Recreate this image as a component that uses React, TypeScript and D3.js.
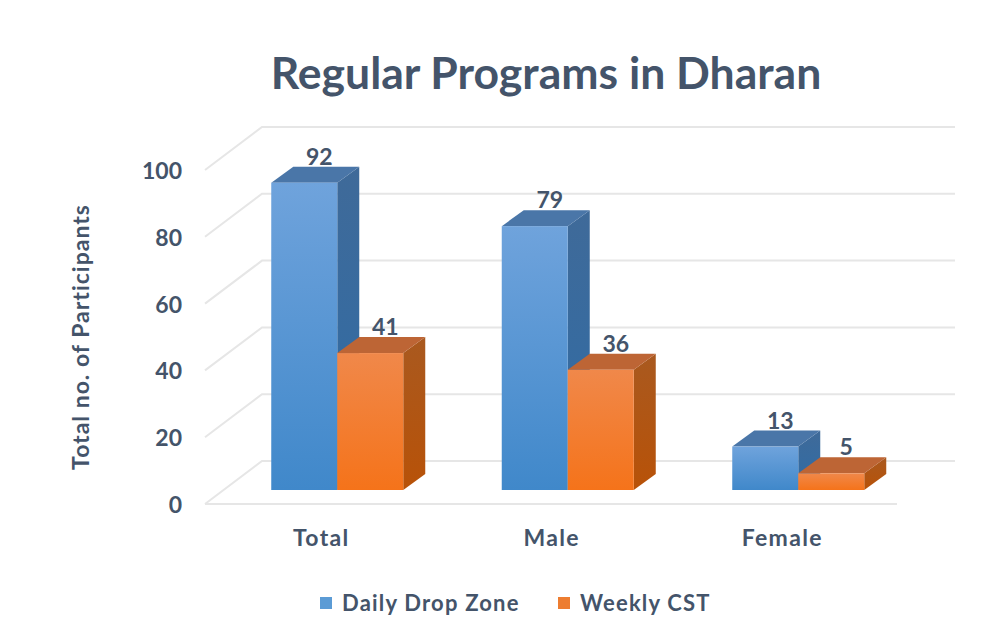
import React, { useEffect, useRef } from 'react';
import * as d3 from 'd3';

const categories = ['Total', 'Male', 'Female'];
const seriesNames = ['Daily Drop Zone', 'Weekly CST'];
const dailyDropZone = [92, 79, 13];
const weeklyCST = [41, 36, 5];
const yTicks = [0, 20, 40, 60, 80, 100];

const TEXT = '#44546a';
const GRID = '#e6e6e6';

const App = () => {
    const svgRef = useRef<SVGSVGElement>(null);

    useEffect(() => {
        const width = 998;
        const height = 635;
        const svg = d3.select(svgRef.current);
        svg.selectAll('*').remove();
        svg.attr('viewBox', `0 0 ${width} ${height}`);

        svg.append('rect').attr('width', width).attr('height', height).attr('fill', '#fff');

        const defs = svg.append('defs');
        const gradient = (id: string, top: string, bottom: string) => {
            const g = defs.append('linearGradient').attr('id', id)
                .attr('x1', 0).attr('y1', 0).attr('x2', 0).attr('y2', 1);
            g.append('stop').attr('offset', '0%').attr('stop-color', top);
            g.append('stop').attr('offset', '100%').attr('stop-color', bottom);
        };
        gradient('blueFront', '#6fa3dc', '#4088ca');
        gradient('blueSide', '#3f6a99', '#2f6ca6');
        gradient('orangeFront', '#f0884a', '#f5731a');
        gradient('orangeSide', '#a9591f', '#b85208');

        const font = "Lato, 'Open Sans', sans-serif";

        // bars stand on a plane a bit behind the front edge of the floor
        const y = d3.scaleLinear().domain([0, 100]).range([490, 156]);
        const yFront = d3.scaleLinear().domain([0, 100]).range([504, 170]);
        const yBack = d3.scaleLinear().domain([0, 100]).range([461, 127]);

        const x0 = d3.scaleBand().domain(categories).range([222, 913.5]);
        const x1 = d3.scaleBand().domain(seriesNames).range([0, 132]);
        const barW = x1.bandwidth();
        const start = (c: string) => x0(c)! + (x0.bandwidth() - 132) / 2;

        const wallLeft = 205;
        const wallBack = 262;
        const gridRight = 955;
        const floorRight = 897;
        const depthX = 22;
        const depthY = 16;

        // gridlines on the back and side walls
        yTicks.forEach(t => {
            svg.append('path')
                .attr('d', `M${wallLeft},${yFront(t)}L${wallBack},${yBack(t)}L${gridRight},${yBack(t)}`)
                .attr('fill', 'none').attr('stroke', GRID).attr('stroke-width', 2);
        });
        svg.append('line')
            .attr('x1', wallLeft).attr('x2', floorRight)
            .attr('y1', yFront(0)).attr('y2', yFront(0))
            .attr('stroke', GRID).attr('stroke-width', 2);

        // y ticks
        svg.append('g').selectAll('text').data(yTicks).join('text')
            .attr('x', 182).attr('y', d => yFront(d) + 9)
            .attr('text-anchor', 'end')
            .attr('font-family', font).attr('font-weight', 700).attr('font-size', 23)
            .attr('fill', TEXT)
            .text(d => d);

        svg.append('text')
            .attr('transform', 'translate(89,337) rotate(-90)')
            .attr('text-anchor', 'middle')
            .attr('font-family', font).attr('font-weight', 700).attr('font-size', 23)
            .attr('letter-spacing', 1)
            .attr('fill', TEXT)
            .text('Total no. of Participants');

        const series = [
            { name: seriesNames[0], values: dailyDropZone, front: 'url(#blueFront)', side: 'url(#blueSide)', top: '#4a76a8' },
            { name: seriesNames[1], values: weeklyCST, front: 'url(#orangeFront)', side: 'url(#orangeSide)', top: '#bd6535' },
        ];

        // back series first so the front faces overlap the neighbour's side
        series.forEach(s => {
            const g = svg.append('g');
            s.values.forEach((v, i) => {
                const left = start(categories[i]) + x1(s.name)!;
                const right = left + barW;
                const top = y(v);
                const base = y(0);
                g.append('path')
                    .attr('d', `M${right},${top}L${right + depthX},${top - depthY}L${right + depthX},${base - depthY}L${right},${base}Z`)
                    .attr('fill', s.side);
                g.append('path')
                    .attr('d', `M${left},${top}L${left + depthX},${top - depthY}L${right + depthX},${top - depthY}L${right},${top}Z`)
                    .attr('fill', s.top);
                g.append('rect')
                    .attr('x', left).attr('y', top)
                    .attr('width', barW).attr('height', base - top)
                    .attr('fill', s.front);
            });
        });

        // data labels
        series.forEach(s => {
            s.values.forEach((v, i) => {
                svg.append('text')
                    .attr('x', start(categories[i]) + x1(s.name)! + barW / 2 + 15)
                    .attr('y', y(v) - 18)
                    .attr('text-anchor', 'middle')
                    .attr('font-family', font).attr('font-weight', 700).attr('font-size', 23)
                    .attr('fill', TEXT)
                    .text(v);
            });
        });

        // category labels
        svg.append('g').selectAll('text').data(categories).join('text')
            .attr('x', d => start(d) + 66 - 16)
            .attr('y', 546)
            .attr('text-anchor', 'middle')
            .attr('font-family', font).attr('font-weight', 700).attr('font-size', 23)
            .attr('letter-spacing', 1.3)
            .attr('fill', TEXT)
            .text(d => d);

        svg.append('text')
            .attr('x', 546).attr('y', 89)
            .attr('text-anchor', 'middle')
            .attr('font-family', font).attr('font-weight', 700).attr('font-size', 44.5)
            .attr('fill', TEXT)
            .text('Regular Programs in Dharan');

        // legend
        const legendX = [320, 558];
        const legendColors = ['#5b9bd5', '#ed7d31'];
        seriesNames.forEach((name, i) => {
            svg.append('rect')
                .attr('x', legendX[i]).attr('y', 597)
                .attr('width', 12).attr('height', 12)
                .attr('fill', legendColors[i]);
            svg.append('text')
                .attr('x', legendX[i] + 22).attr('y', 611)
                .attr('font-family', font).attr('font-weight', 700).attr('font-size', 22)
                .attr('letter-spacing', 1.2)
                .attr('fill', TEXT)
                .text(name);
        });
    }, []);

    return <svg ref={svgRef} width={998} height={635} style={{ position: 'absolute', left: 0, top: 0 }} />;
};

export default App;
